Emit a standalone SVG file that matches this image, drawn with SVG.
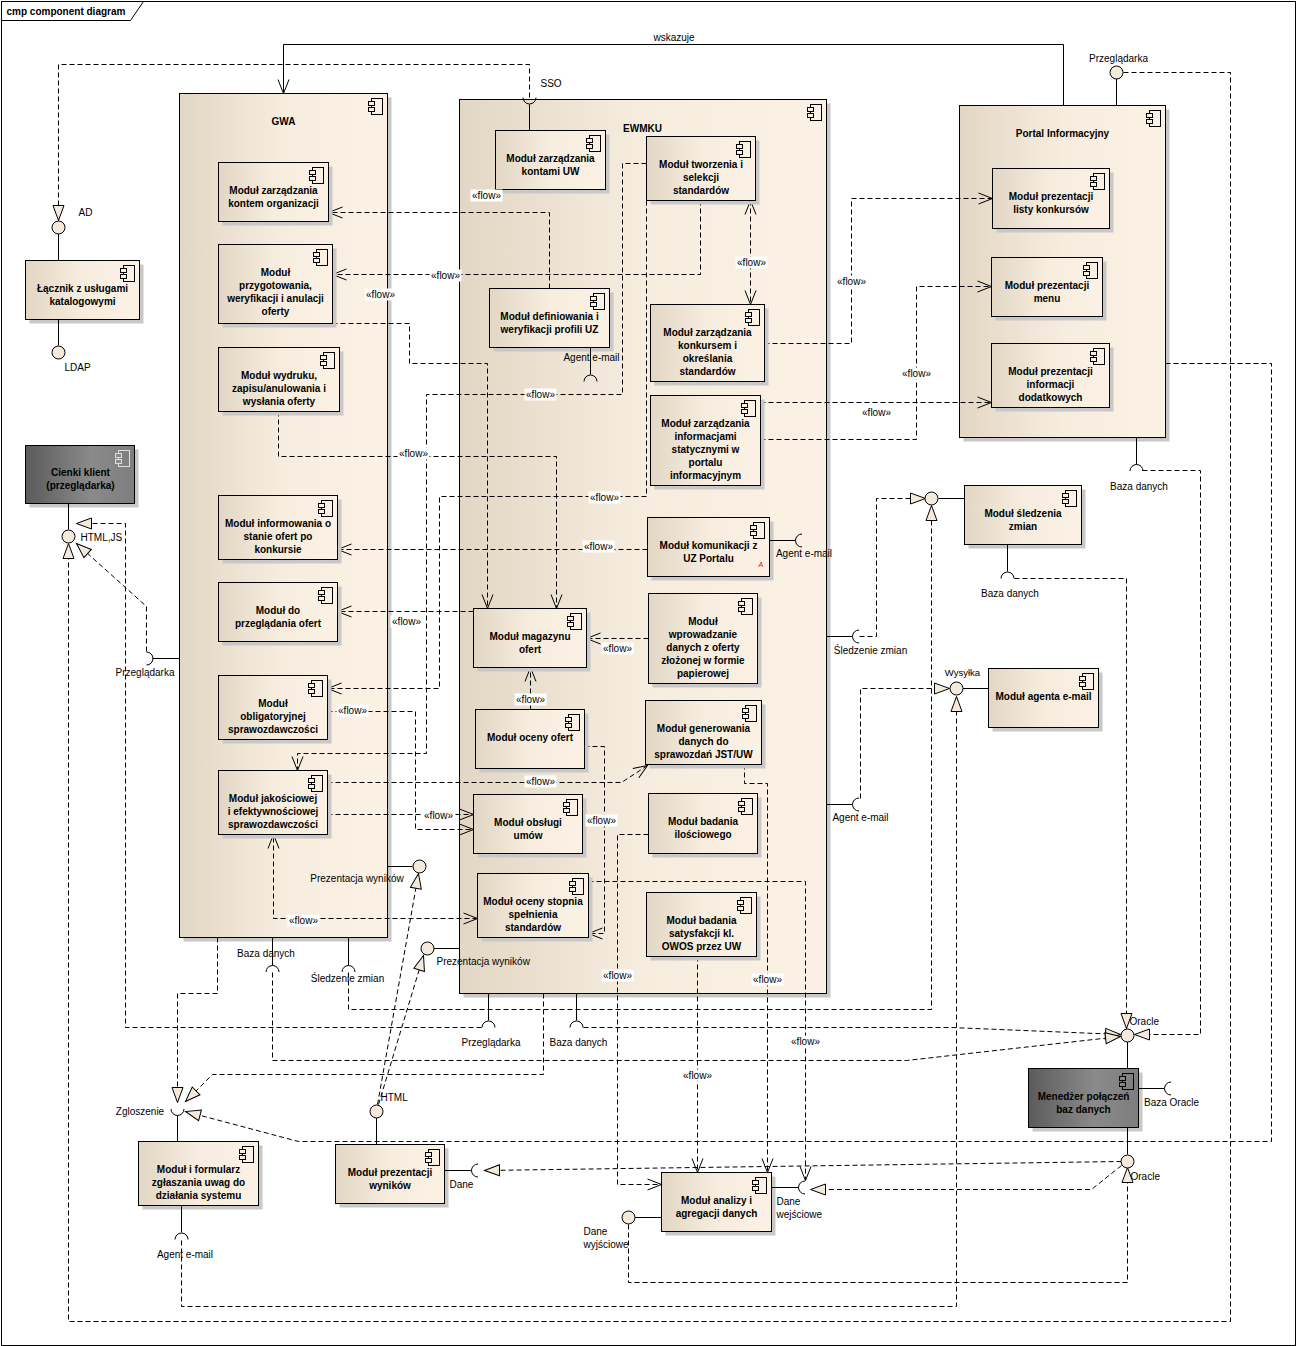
<svg xmlns="http://www.w3.org/2000/svg" width="1296" height="1346" viewBox="0 0 1296 1346">
<defs>
<style>
text{font-family:"Liberation Sans",Arial,sans-serif;font-size:10px;fill:#000}
.n{font-weight:bold;text-anchor:middle}
.m{text-anchor:middle}
.bx{fill:url(#g);stroke:#000}
.dk{fill:url(#gd);stroke:#000}
.sh{fill:#c8c8c8}
.c{fill:none;stroke:#000;stroke-dasharray:5 3}
.s{fill:none;stroke:#000}
.v{marker-end:url(#v)}
.r{marker-end:url(#tri)}
.lp{fill:#F4EADB;stroke:#000}
.fb{fill:#fff}
</style>
<linearGradient id="g" x1="0" y1="0" x2="1" y2="0"><stop offset="0" stop-color="#E2D7C4"/><stop offset="0.5" stop-color="#F7EDDF"/><stop offset="1" stop-color="#FBF1E4"/></linearGradient>
<linearGradient id="gd" x1="0" y1="0" x2="1" y2="0"><stop offset="0" stop-color="#5b5b5b"/><stop offset="0.6" stop-color="#8a8a8a"/><stop offset="1" stop-color="#7e7e7e"/></linearGradient>
<marker id="v" markerWidth="1" markerHeight="1" refX="0" refY="0" orient="auto" markerUnits="userSpaceOnUse" overflow="visible"><path d="M-14,-5.5 L0,0 L-14,5.5" fill="none" stroke="#000"/></marker>
<marker id="vs" markerWidth="1" markerHeight="1" refX="0" refY="0" orient="auto-start-reverse" markerUnits="userSpaceOnUse" overflow="visible"><path d="M-14,-5.5 L0,0 L-14,5.5" fill="none" stroke="#000"/></marker>
<marker id="tri" markerWidth="1" markerHeight="1" refX="0" refY="0" orient="auto" markerUnits="userSpaceOnUse" overflow="visible"><path d="M0,0 L-15,-5.5 L-15,5.5 Z" fill="#F4EADB" stroke="#000"/></marker>
<g id="ico"><rect x="3" y="0" width="11" height="16" fill="none" stroke="#000"/><rect x="0" y="3" width="6" height="4" fill="#F9EFE2" stroke="#000"/><rect x="0" y="9" width="6" height="4" fill="#F9EFE2" stroke="#000"/></g>
<g id="icol"><rect x="3" y="0" width="11" height="16" fill="none" stroke="#ddd"/><rect x="0" y="3" width="6" height="4" fill="#8a8a8a" stroke="#ddd"/><rect x="0" y="9" width="6" height="4" fill="#8a8a8a" stroke="#ddd"/></g>
<g id="icod"><rect x="3" y="0" width="11" height="16" fill="none" stroke="#000"/><rect x="0" y="3" width="6" height="4" fill="#858585" stroke="#000"/><rect x="0" y="9" width="6" height="4" fill="#858585" stroke="#000"/></g>
</defs>
<rect x="0" y="0" width="1296" height="1346" fill="#fff"/>
<g transform="translate(0.5,0.5)">
<g id="frame"><rect x="1" y="1" width="1294" height="1344" fill="none" stroke="#000"/><path d="M1,20 H130 L143,1" class="s"/><text x="6" y="14" font-weight="bold">cmp component diagram</text></g>

<g id="gwa"><rect class="sh" x="183" y="97" width="208" height="844"/><rect class="bx" x="179" y="93" width="208" height="844"/><use href="#ico" x="368" y="98"/><text class="n" x="283" y="124">GWA</text></g>
<g id="ewmku"><rect class="sh" x="463" y="103" width="367" height="894"/><rect class="bx" x="459" y="99" width="367" height="894"/><use href="#ico" x="807" y="104"/><text class="n" x="642" y="131">EWMKU</text></g>
<g id="portal"><rect class="sh" x="963" y="109" width="206" height="332"/><rect class="bx" x="959" y="105" width="206" height="332"/><use href="#ico" x="1146" y="110"/><text class="n" x="1062" y="136">Portal Informacyjny</text></g>

<g id="connectors">
<path class="s v" d="M1063,105 V44 H283 V93"/>
<path class="c r" d="M529,97 V64 H58 V220"/>
<path class="c r" d="M1123,72 H1230 V1321 H68 V543"/>
<path class="c r" d="M481,1027 H125 V523 H76"/>
<path class="c r" d="M146,651 V606 L76,543"/>
<path class="c r" d="M377,1104 L418,873"/>
<path class="c r" d="M378,1104 L423,955"/>
<path class="c r" d="M348,972 V1009 H931 V505"/>
<path class="c r" d="M859,636 H876 V498 H925"/>
<path class="c r" d="M860,798 V688 H949"/>
<path class="c r" d="M181,1240 V1306 H956 V696"/>
<path class="c r" d="M217,937 V993 H177 V1102"/>
<path class="c r" d="M543,993 V1074 H212 L185,1101"/>
<path class="c r" d="M1165,363 H1271 V1141 H298 L185,1111"/>
<path class="c r" d="M1014,578 H1126 V1028"/>
<path class="c r" d="M1142,470 H1200 V1034 H1134"/>
<path class="c r" d="M583,1027 H950 L1120,1034"/>
<path class="c r" d="M272,972 V1060 H906 L1120,1036"/>
<path class="c r" d="M628,1224 V1282 H1127 V1167"/>
<path class="c r" d="M1121,1161 L484,1170"/>
<path class="c r" d="M1121,1165 L1091,1189 H810"/>
<path class="c v" d="M549,288 V212 H328"/>
<path class="c v" d="M700,200 V274 H332"/>
<path class="c v" d="M332,323 H409 V363 H487 V608"/>
<path class="c v" d="M278,411 V456 H556 V608"/>
<path class="c v" d="M646,163 H622 V394 H426 V753 H297 V770"/>
<path class="c v" d="M646,200 V496 H439 V688 H327"/>
<path class="c v" d="M647,549 H337"/>
<path class="c v" d="M473,611 H337"/>
<path class="c v" d="M648,638 H586"/>
<path class="c v" d="M530,709 V667"/>
<path class="c v" d="M584,746 H604 V933 H588"/>
<path class="c v" d="M327,782 H621 L647,765"/>
<path class="c v" d="M327,814 H473"/>
<path class="c v" d="M327,711 H415 V829 H473"/>
<path class="c v" d="M477,918 H273 V834" marker-start="url(#vs)"/>
<path class="c v" d="M750,200 V304" marker-start="url(#vs)"/>
<path class="c v" d="M764,343 H851 V198 H992"/>
<path class="c v" d="M760,402 H991"/>
<path class="c v" d="M760,439 H916 V286 H991"/>
<path class="c v" d="M697,956 V1172"/>
<path class="c v" d="M744,764 V783 H767 V1172"/>
<path class="c v" d="M648,834 H617 V1184 H661"/>
<path class="c v" d="M588,881 H805 V1180"/>
</g>

<g id="lacznik"><rect class="sh" x="29" y="264" width="114" height="59"/><rect class="bx" x="25" y="260" width="114" height="59"/><use href="#ico" x="120" y="265"/><text class="n"><tspan x="82" y="291">Łącznik z usługami</tspan><tspan x="82" y="304">katalogowymi</tspan></text></g>
<g id="cienki"><rect class="sh" x="29" y="449" width="109" height="58"/><rect class="dk" x="25" y="445" width="109" height="58"/><use href="#icol" x="115" y="450"/><text class="n"><tspan x="80" y="475">Cienki klient</tspan><tspan x="80" y="488">(przeglądarka)</tspan></text></g>
<g id="kontem"><rect class="sh" x="222" y="166" width="110" height="59"/><rect class="bx" x="218" y="162" width="110" height="59"/><use href="#ico" x="309" y="167"/><text class="n"><tspan x="273" y="193">Moduł zarządzania</tspan><tspan x="273" y="206">kontem organizacji</tspan></text></g>
<g id="przygotowania"><rect class="sh" x="222" y="248" width="114" height="79"/><rect class="bx" x="218" y="244" width="114" height="79"/><use href="#ico" x="313" y="249"/><text class="n"><tspan x="275" y="275">Moduł</tspan><tspan x="275" y="288">przygotowania,</tspan><tspan x="275" y="301">weryfikacji i anulacji</tspan><tspan x="275" y="314">oferty</tspan></text></g>
<g id="wydruku"><rect class="sh" x="222" y="351" width="121" height="64"/><rect class="bx" x="218" y="347" width="121" height="64"/><use href="#ico" x="320" y="352"/><text class="n"><tspan x="278.5" y="378">Moduł wydruku,</tspan><tspan x="278.5" y="391">zapisu/anulowania i</tspan><tspan x="278.5" y="404">wysłania oferty</tspan></text></g>
<g id="informowania"><rect class="sh" x="222" y="499" width="119" height="64"/><rect class="bx" x="218" y="495" width="119" height="64"/><use href="#ico" x="318" y="500"/><text class="n"><tspan x="277.5" y="526">Moduł informowania o</tspan><tspan x="277.5" y="539">stanie ofert po</tspan><tspan x="277.5" y="552">konkursie</tspan></text></g>
<g id="przegladania"><rect class="sh" x="222" y="586" width="119" height="59"/><rect class="bx" x="218" y="582" width="119" height="59"/><use href="#ico" x="318" y="587"/><text class="n"><tspan x="277.5" y="613">Moduł do</tspan><tspan x="277.5" y="626">przeglądania ofert</tspan></text></g>
<g id="obligatoryjnej"><rect class="sh" x="222" y="679" width="109" height="64"/><rect class="bx" x="218" y="675" width="109" height="64"/><use href="#ico" x="308" y="680"/><text class="n"><tspan x="272.5" y="706">Moduł</tspan><tspan x="272.5" y="719">obligatoryjnej</tspan><tspan x="272.5" y="732">sprawozdawczości</tspan></text></g>
<g id="jakosciowej"><rect class="sh" x="222" y="774" width="109" height="64"/><rect class="bx" x="218" y="770" width="109" height="64"/><use href="#ico" x="308" y="775"/><text class="n"><tspan x="272.5" y="801">Moduł jakościowej</tspan><tspan x="272.5" y="814">i efektywnościowej</tspan><tspan x="272.5" y="827">sprawozdawczości</tspan></text></g>
<g id="kontami"><rect class="sh" x="499" y="134" width="110" height="59"/><rect class="bx" x="495" y="130" width="110" height="59"/><use href="#ico" x="586" y="135"/><text class="n"><tspan x="550" y="161">Moduł zarządzania</tspan><tspan x="550" y="174">kontami UW</tspan></text></g>
<g id="tworzenia"><rect class="sh" x="650" y="140" width="109" height="64"/><rect class="bx" x="646" y="136" width="109" height="64"/><use href="#ico" x="736" y="141"/><text class="n"><tspan x="700.5" y="167">Moduł tworzenia i</tspan><tspan x="700.5" y="180">selekcji</tspan><tspan x="700.5" y="193">standardów</tspan></text></g>
<g id="definiowania"><rect class="sh" x="493" y="292" width="120" height="59"/><rect class="bx" x="489" y="288" width="120" height="59"/><use href="#ico" x="590" y="293"/><text class="n"><tspan x="549" y="319">Moduł definiowania i</tspan><tspan x="549" y="332">weryfikacji profili UZ</tspan></text></g>
<g id="konkursem"><rect class="sh" x="654" y="308" width="114" height="77"/><rect class="bx" x="650" y="304" width="114" height="77"/><use href="#ico" x="745" y="309"/><text class="n"><tspan x="707" y="335">Moduł zarządzania</tspan><tspan x="707" y="348">konkursem i</tspan><tspan x="707" y="361">określania</tspan><tspan x="707" y="374">standardów</tspan></text></g>
<g id="informacjami"><rect class="sh" x="654" y="399" width="110" height="90"/><rect class="bx" x="650" y="395" width="110" height="90"/><use href="#ico" x="741" y="400"/><text class="n"><tspan x="705" y="426">Moduł zarządzania</tspan><tspan x="705" y="439">informacjami</tspan><tspan x="705" y="452">statycznymi w</tspan><tspan x="705" y="465">portalu</tspan><tspan x="705" y="478">informacyjnym</tspan></text></g>
<g id="komunikacji"><rect class="sh" x="651" y="521" width="122" height="59"/><rect class="bx" x="647" y="517" width="122" height="59"/><use href="#ico" x="750" y="522"/><text class="n"><tspan x="708" y="548">Moduł komunikacji z</tspan><tspan x="708" y="561">UZ Portalu</tspan></text><text x="758" y="566" style="font-size:7px;fill:#e00;font-style:italic">A</text></g>
<g id="wprowadzanie"><rect class="sh" x="652" y="597" width="109" height="90"/><rect class="bx" x="648" y="593" width="109" height="90"/><use href="#ico" x="738" y="598"/><text class="n"><tspan x="702.5" y="624">Moduł</tspan><tspan x="702.5" y="637">wprowadzanie</tspan><tspan x="702.5" y="650">danych z oferty</tspan><tspan x="702.5" y="663">złożonej w formie</tspan><tspan x="702.5" y="676">papierowej</tspan></text></g>
<g id="magazynu"><rect class="sh" x="477" y="612" width="113" height="59"/><rect class="bx" x="473" y="608" width="113" height="59"/><use href="#ico" x="567" y="613"/><text class="n"><tspan x="529.5" y="639">Moduł magazynu</tspan><tspan x="529.5" y="652">ofert</tspan></text></g>
<g id="ocenyofert"><rect class="sh" x="479" y="713" width="109" height="59"/><rect class="bx" x="475" y="709" width="109" height="59"/><use href="#ico" x="565" y="714"/><text class="n" x="529.5" y="740">Moduł oceny ofert</text></g>
<g id="generowania"><rect class="sh" x="649" y="704" width="116" height="64"/><rect class="bx" x="645" y="700" width="116" height="64"/><use href="#ico" x="742" y="705"/><text class="n"><tspan x="703" y="731">Moduł generowania</tspan><tspan x="703" y="744">danych do</tspan><tspan x="703" y="757">sprawozdań JST/UW</tspan></text></g>
<g id="obslugi"><rect class="sh" x="477" y="798" width="109" height="59"/><rect class="bx" x="473" y="794" width="109" height="59"/><use href="#ico" x="563" y="799"/><text class="n"><tspan x="527.5" y="825">Moduł obsługi</tspan><tspan x="527.5" y="838">umów</tspan></text></g>
<g id="ilosciowego"><rect class="sh" x="652" y="797" width="109" height="60"/><rect class="bx" x="648" y="793" width="109" height="60"/><use href="#ico" x="738" y="798"/><text class="n"><tspan x="702.5" y="824">Moduł badania</tspan><tspan x="702.5" y="837">ilościowego</tspan></text></g>
<g id="ocenystopnia"><rect class="sh" x="481" y="877" width="111" height="64"/><rect class="bx" x="477" y="873" width="111" height="64"/><use href="#ico" x="569" y="878"/><text class="n"><tspan x="532.5" y="904">Moduł oceny stopnia</tspan><tspan x="532.5" y="917">spełnienia</tspan><tspan x="532.5" y="930">standardów</tspan></text></g>
<g id="satysfakcji"><rect class="sh" x="650" y="896" width="110" height="64"/><rect class="bx" x="646" y="892" width="110" height="64"/><use href="#ico" x="737" y="897"/><text class="n"><tspan x="701" y="923">Moduł badania</tspan><tspan x="701" y="936">satysfakcji kl.</tspan><tspan x="701" y="949">OWOS przez UW</tspan></text></g>
<g id="listy"><rect class="sh" x="996" y="172" width="117" height="60"/><rect class="bx" x="992" y="168" width="117" height="60"/><use href="#ico" x="1090" y="173"/><text class="n"><tspan x="1050.5" y="199">Moduł prezentacji</tspan><tspan x="1050.5" y="212">listy konkursów</tspan></text></g>
<g id="menu"><rect class="sh" x="995" y="261" width="111" height="59"/><rect class="bx" x="991" y="257" width="111" height="59"/><use href="#ico" x="1083" y="262"/><text class="n"><tspan x="1046.5" y="288">Moduł prezentacji</tspan><tspan x="1046.5" y="301">menu</tspan></text></g>
<g id="dodatkowych"><rect class="sh" x="995" y="347" width="118" height="64"/><rect class="bx" x="991" y="343" width="118" height="64"/><use href="#ico" x="1090" y="348"/><text class="n"><tspan x="1050" y="374">Moduł prezentacji</tspan><tspan x="1050" y="387">informacji</tspan><tspan x="1050" y="400">dodatkowych</tspan></text></g>
<g id="sledzenia"><rect class="sh" x="968" y="489" width="117" height="59"/><rect class="bx" x="964" y="485" width="117" height="59"/><use href="#ico" x="1062" y="490"/><text class="n"><tspan x="1022.5" y="516">Moduł śledzenia</tspan><tspan x="1022.5" y="529">zmian</tspan></text></g>
<g id="agenta"><rect class="sh" x="992" y="672" width="110" height="59"/><rect class="bx" x="988" y="668" width="110" height="59"/><use href="#ico" x="1079" y="673"/><text class="n" x="1043" y="699">Moduł agenta e-mail</text></g>
<g id="formularz"><rect class="sh" x="142" y="1145" width="120" height="64"/><rect class="bx" x="138" y="1141" width="120" height="64"/><use href="#ico" x="239" y="1146"/><text class="n"><tspan x="198" y="1172">Moduł i formularz</tspan><tspan x="198" y="1185">zgłaszania uwag do</tspan><tspan x="198" y="1198">działania systemu</tspan></text></g>
<g id="prezentacji"><rect class="sh" x="339" y="1148" width="109" height="59"/><rect class="bx" x="335" y="1144" width="109" height="59"/><use href="#ico" x="425" y="1149"/><text class="n"><tspan x="389.5" y="1175">Moduł prezentacji</tspan><tspan x="389.5" y="1188">wyników</tspan></text></g>
<g id="analizy"><rect class="sh" x="665" y="1176" width="110" height="59"/><rect class="bx" x="661" y="1172" width="110" height="59"/><use href="#ico" x="752" y="1177"/><text class="n"><tspan x="716" y="1203">Moduł analizy i</tspan><tspan x="716" y="1216">agregacji danych</tspan></text></g>
<g id="menedzer"><rect class="sh" x="1032" y="1072" width="110" height="59"/><rect class="dk" x="1028" y="1068" width="110" height="59"/><use href="#icod" x="1119" y="1073"/><text class="n"><tspan x="1083" y="1099">Menedżer połączeń</tspan><tspan x="1083" y="1112">baz danych</tspan></text></g>

<g id="interfaces">
<path class="s" d="M58,233 V260 M58,319 V345 M68,503 V529 M1116,78 V105 M387,866 H412 M433,948 H459 M376,1117 V1144 M938,498 H964 M962,688 H988 M1127,1041 V1068 M1127,1127 V1154 M634,1217 H661"/>
<circle class="lp" cx="58" cy="227" r="6.5"/>
<circle class="lp" cx="58" cy="352" r="6.5"/>
<circle class="lp" cx="68" cy="536" r="6.5"/>
<circle class="lp" cx="1116" cy="72" r="6.5"/>
<circle class="lp" cx="419" cy="866" r="6.5"/>
<circle class="lp" cx="427" cy="948" r="6.5"/>
<circle class="lp" cx="376" cy="1111" r="6.5"/>
<circle class="lp" cx="931" cy="498" r="6.5"/>
<circle class="lp" cx="956" cy="688" r="6.5"/>
<circle class="lp" cx="1127" cy="1035" r="6.5"/>
<circle class="lp" cx="1127" cy="1161" r="6.5"/>
<circle class="lp" cx="628" cy="1217" r="6.5"/>
<path class="s" d="M529,104 V130 M522.5,97 A6.5,6.5 0 0 0 535.5,97"/>
<path class="s" d="M590,347 V374 M583.5,381 A6.5,6.5 0 0 1 596.5,381"/>
<path class="s" d="M769,540 H795 M801.5,533.5 A6.5,6.5 0 0 0 801.5,546.5"/>
<path class="s" d="M826,636 H852 M858.5,629.5 A6.5,6.5 0 0 0 858.5,642.5"/>
<path class="s" d="M826,804 H852 M858.5,797.5 A6.5,6.5 0 0 0 858.5,810.5"/>
<path class="s" d="M179,658 H152 M146,651.5 A6.5,6.5 0 0 1 146,664.5"/>
<path class="s" d="M272,937 V965 M265.5,971.5 A6.5,6.5 0 0 1 278.5,971.5"/>
<path class="s" d="M348,937 V965 M341.5,971.5 A6.5,6.5 0 0 1 354.5,971.5"/>
<path class="s" d="M488,993 V1020 M481.5,1027 A6.5,6.5 0 0 1 494.5,1027"/>
<path class="s" d="M576,993 V1020 M569.5,1027 A6.5,6.5 0 0 1 582.5,1027"/>
<path class="s" d="M177,1141 V1115 M170.5,1108.5 A6.5,6.5 0 0 0 183.5,1108.5"/>
<path class="s" d="M181,1205 V1232 M174.5,1239 A6.5,6.5 0 0 1 187.5,1239"/>
<path class="s" d="M444,1170 H471 M477.5,1163.5 A6.5,6.5 0 0 0 477.5,1176.5"/>
<path class="s" d="M771,1187 H798 M804.5,1180.5 A6.5,6.5 0 0 0 804.5,1193.5"/>
<path class="s" d="M1007,544 V571 M1000.5,578 A6.5,6.5 0 0 1 1013.5,578"/>
<path class="s" d="M1136,437 V464 M1129.5,470.5 A6.5,6.5 0 0 1 1142.5,470.5"/>
<path class="s" d="M1138,1088 H1164 M1170.5,1081.5 A6.5,6.5 0 0 0 1170.5,1094.5"/>
</g>

<g id="labels">
<text class="m" x="673.5" y="40">wskazuje</text>
<text x="540" y="86">SSO</text>
<text x="78" y="215">AD</text>
<text x="64" y="370">LDAP</text>
<text x="80" y="540">HTML,JS</text>
<text class="m" x="144.5" y="675">Przeglądarka</text>
<text class="m" x="1118" y="61">Przeglądarka</text>
<text class="m" x="591" y="360">Agent e-mail</text>
<text class="m" x="803.5" y="556">Agent e-mail</text>
<text class="m" x="870" y="653">Śledzenie zmian</text>
<text class="m" x="860" y="820">Agent e-mail</text>
<text class="m" x="1138.5" y="489">Baza danych</text>
<text class="m" x="1009.5" y="596">Baza danych</text>
<text class="m" x="962" y="675" style="font-size:9.5px">Wysyłka</text>
<text class="m" x="356.5" y="881">Prezentacja wyników</text>
<text x="436" y="964">Prezentacja wyników</text>
<text class="m" x="265.5" y="956">Baza danych</text>
<text class="m" x="347" y="981">Śledzenie zmian</text>
<text class="m" x="490.5" y="1045">Przeglądarka</text>
<text class="m" x="578" y="1045">Baza danych</text>
<text x="1129" y="1024">Oracle</text>
<text class="m" x="1171" y="1105">Baza Oracle</text>
<text x="1130" y="1179">Oracle</text>
<text class="m" x="139.5" y="1114">Zgloszenie</text>
<text x="380" y="1100">HTML</text>
<text x="449" y="1187">Dane</text>
<text class="m" x="184.5" y="1257">Agent e-mail</text>
<text x="583" y="1234">Dane</text>
<text x="583" y="1247">wyjściowe</text>
<text x="776" y="1204">Dane</text>
<text x="776" y="1217">wejściowe</text>
</g>

<g id="flowlabels">
<rect class="fb" x="470" y="189" width="32" height="12"/><text class="m" x="486" y="198">«flow»</text>
<rect class="fb" x="429" y="269" width="32" height="12"/><text class="m" x="445" y="278">«flow»</text>
<rect class="fb" x="364" y="288" width="32" height="12"/><text class="m" x="380" y="297">«flow»</text>
<rect class="fb" x="735" y="256" width="32" height="12"/><text class="m" x="751" y="265">«flow»</text>
<rect class="fb" x="835" y="275" width="32" height="12"/><text class="m" x="851" y="284">«flow»</text>
<rect class="fb" x="524" y="388" width="32" height="12"/><text class="m" x="540" y="397">«flow»</text>
<rect class="fb" x="900" y="367" width="32" height="12"/><text class="m" x="916" y="376">«flow»</text>
<rect class="fb" x="860" y="406" width="32" height="12"/><text class="m" x="876" y="415">«flow»</text>
<rect class="fb" x="397" y="447" width="32" height="12"/><text class="m" x="413" y="456">«flow»</text>
<rect class="fb" x="588" y="491" width="32" height="12"/><text class="m" x="604" y="500">«flow»</text>
<rect class="fb" x="582" y="540" width="32" height="12"/><text class="m" x="598" y="549">«flow»</text>
<rect class="fb" x="390" y="615" width="32" height="12"/><text class="m" x="406" y="624">«flow»</text>
<rect class="fb" x="601" y="642" width="32" height="12"/><text class="m" x="617" y="651">«flow»</text>
<rect class="fb" x="514" y="693" width="32" height="12"/><text class="m" x="530" y="702">«flow»</text>
<rect class="fb" x="336" y="704" width="32" height="12"/><text class="m" x="352" y="713">«flow»</text>
<rect class="fb" x="524" y="775" width="32" height="12"/><text class="m" x="540" y="784">«flow»</text>
<rect class="fb" x="422" y="809" width="32" height="12"/><text class="m" x="438" y="818">«flow»</text>
<rect class="fb" x="585" y="814" width="32" height="12"/><text class="m" x="601" y="823">«flow»</text>
<rect class="fb" x="287" y="914" width="32" height="12"/><text class="m" x="303" y="923">«flow»</text>
<rect class="fb" x="601" y="969" width="32" height="12"/><text class="m" x="617" y="978">«flow»</text>
<rect class="fb" x="751" y="973" width="32" height="12"/><text class="m" x="767" y="982">«flow»</text>
<rect class="fb" x="789" y="1035" width="32" height="12"/><text class="m" x="805" y="1044">«flow»</text>
<rect class="fb" x="681" y="1069" width="32" height="12"/><text class="m" x="697" y="1078">«flow»</text>
</g>
</g>
</svg>
